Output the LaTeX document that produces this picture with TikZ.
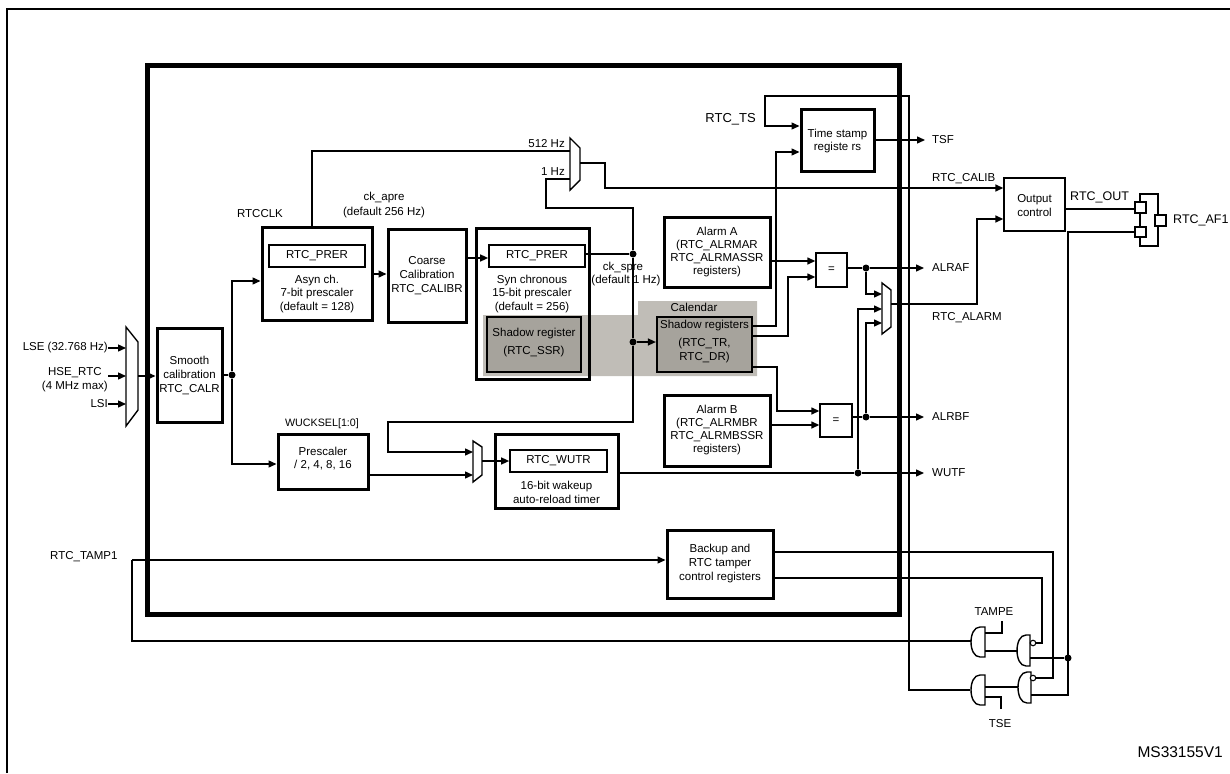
\documentclass[tikz,border=0pt]{standalone}
\usepackage{fontspec}
\setmainfont{Liberation Sans}
\usetikzlibrary{arrows.meta,calc}
\definecolor{calgray}{RGB}{192,189,183}
\definecolor{shgray}{RGB}{166,163,156}
\begin{document}
\begin{tikzpicture}[x=1pt,y=-1pt,
  wire/.style={line width=1.4pt},
  arr/.style={wire,-{Triangle[length=8pt,width=7pt]}},
  tbox/.style={draw,line width=3pt,inner sep=0pt},
  rbox/.style={draw,line width=1.7pt,inner sep=0pt},
  nbox/.style={draw,line width=1.4pt,inner sep=0pt},
  sbox/.style={draw,line width=2.2pt,inner sep=0pt,fill=shgray},
  txt/.style={inner sep=0pt,align=center,font=\fontsize{11.5}{13.5}\selectfont},
  dot/.style={circle,fill,inner sep=0pt,minimum size=7pt},
  bub/.style={circle,draw,line width=1.1pt,fill=white,inner sep=0pt,minimum size=5.5pt}]
\useasboundingbox (0,0) rectangle (1230,773);
% outer frame
\draw[line width=2pt] (7,773) -- (7,9) -- (1230,9);
% calendar background
\fill[calgray] (483,315) -- (638,315) -- (638,301) -- (757,301) -- (757,376) -- (483,376) -- cycle;
\node[txt] (calT) at (694,307) {Calendar};
% main frame
\draw[line width=5pt] (147,66) rectangle (899,614);

% boxes
\node[tbox,minimum width=65pt,minimum height=94pt] (smooth) at (189.5,375) {};
\node[txt,font=\fontsize{11.5}{14}\selectfont] (smoothT) at (189.5,375) {Smooth\\calibration\\RTC\_CALR};
\node[tbox,minimum width=110pt,minimum height=93pt] (asyn) at (317,273.5) {};
\node[rbox,minimum width=96pt,minimum height=22pt] (asynreg) at (317,256) {};
\node[txt] at (asynreg) {RTC\_PRER};
\node[txt] (asynT) at (317,294) {Asyn ch.\\7-bit prescaler\\(default = 128)};
\node[tbox,minimum width=78pt,minimum height=93pt] (coarse) at (427,275.5) {};
\node[txt,font=\fontsize{11.5}{14}\selectfont] (coarseT) at (427,276) {Coarse\\Calibration\\RTC\_CALIBR};
\node[tbox,minimum width=113pt,minimum height=151pt] (sync) at (532.5,303.5) {};
\node[rbox,minimum width=96pt,minimum height=22pt] (syncreg) at (537,256) {};
\node[txt] at (syncreg) {RTC\_PRER};
\node[txt] (syncT) at (532,294) {Syn chronous\\15-bit prescaler\\(default = 256)};
\node[sbox,minimum width=94pt,minimum height=55pt] (ssr) at (534,344.5) {};
\node[txt,font=\fontsize{11.5}{18}\selectfont] (ssrT) at (534,342.5) {Shadow register\\(RTC\_SSR)};
\node[sbox,minimum width=95pt,minimum height=55pt] (calsh) at (704.5,344.5) {};
\node[txt] (calshA) at (704.5,326) {Shadow registers};
\node[txt,font=\fontsize{11.5}{14}\selectfont] (calshB) at (704.5,351) {(RTC\_TR,\\RTC\_DR)};
\node[tbox,minimum width=106pt,minimum height=70pt] (alarmA) at (717,252) {};
\node[txt,font=\fontsize{11.5}{13}\selectfont] (alarmAT) at (717,252.5) {Alarm A\\(RTC\_ALRMAR\\RTC\_ALRMASSR\\registers)};
\node[tbox,minimum width=106pt,minimum height=71pt] (alarmB) at (717,430.5) {};
\node[txt,font=\fontsize{11.5}{13}\selectfont] (alarmBT) at (717,430.5) {Alarm B\\(RTC\_ALRMBR\\RTC\_ALRMBSSR\\registers)};
\node[nbox,minimum width=31pt,minimum height=34pt] (eqA) at (831.5,270) {};
\node[txt] at (eqA) {=};
\node[nbox,minimum width=32pt,minimum height=33pt] (eqB) at (836,420.5) {};
\node[txt] at (eqB) {=};
\node[tbox,minimum width=90pt,minimum height=55pt] (presc) at (323,461.5) {};
\node[txt,font=\fontsize{11.5}{13}\selectfont] (prescT) at (323,459) {Prescaler\\/ 2, 4, 8, 16};
\node[txt,font=\fontsize{10.7}{12}\selectfont] (wucksel) at (322,424) {WUCKSEL[1:0]};
\node[tbox,minimum width=123pt,minimum height=74pt] (wut) at (556.5,471) {};
\node[rbox,minimum width=97pt,minimum height=22pt] (wutreg) at (558.5,461) {};
\node[txt] at (wutreg) {RTC\_WUTR};
\node[txt,font=\fontsize{11.5}{14}\selectfont] (wutT) at (556.5,492) {16-bit wakeup\\auto-reload timer};
\node[tbox,minimum width=106pt,minimum height=68pt] (backup) at (720,564) {};
\node[txt,font=\fontsize{11.5}{14}\selectfont] (backupT) at (720,564) {Backup and\\RTC tamper\\control registers};
\node[tbox,minimum width=73pt,minimum height=61pt] (ts) at (837.5,140.5) {};
\node[txt,font=\fontsize{11.5}{12.5}\selectfont] (tsT) at (837.5,141) {Time stamp\\registe rs};
\node[nbox,minimum width=61pt,minimum height=53pt] (outctl) at (1034.5,204.5) {};
\node[txt,font=\fontsize{11.5}{14}\selectfont] (outctlT) at (1034.5,206) {Output\\control};

% muxes
\draw[wire] (126,327) -- (138,342) -- (138,410) -- (126,426) -- cycle;
\draw[wire] (570,138) -- (580,148) -- (580,180) -- (570,190) -- cycle;
\draw[wire] (473,441) -- (482,447) -- (482,475) -- (473,482) -- cycle;
\draw[wire] (882,283) -- (891,290) -- (891,327) -- (882,334) -- cycle;
\coordinate (lsein) at (126,348);
\coordinate (hsein) at (126,376);
\coordinate (lsiin) at (126,404);
\coordinate (imo) at (138,376);
\coordinate (c512) at (570,151);
\coordinate (c1) at (570,179);
\coordinate (cmo) at (580,163);
\coordinate (wk1) at (473,452);
\coordinate (wk2) at (473,475);
\coordinate (wko) at (482,461);
\coordinate (am1) at (882,294);
\coordinate (am2) at (882,309);
\coordinate (am3) at (882,323);
\coordinate (amo) at (891,304);

% input labels
\node[txt,anchor=east] (lse) at (108,348) {LSE (32.768 Hz)};
\node[txt,anchor=east] (hse) at (108,379.5) {HSE\_RTC\\(4 MHz max)};
\node[txt,anchor=east] (lsi) at (108,404) {LSI};
\draw[arr] (lse.east) -- (lsein);
\draw[arr] (hsein -| hse.east) -- (hsein);
\draw[arr] (lsi.east) -- (lsiin);
\draw[arr] (imo) -- (smooth.west |- imo);

% clock path
\node[dot] (j1) at (232,375) {};
\draw[wire] (smooth.east |- j1) -- (j1);
\draw[arr] (j1) |- (asyn.west |- 0,281);
\draw[arr] (j1) |- (presc.west |- 0,464);
\draw[arr] (asyn.east |- 0,274) -- (coarse.west |- 0,274);
\draw[arr] (coarse.east |- 0,258) -- (syncreg.west |- 0,258);
\node[txt] (rtcclk) at (260,214) {RTCCLK};
\node[txt,font=\fontsize{11.5}{15}\selectfont] (ckapre) at (384,205.5) {ck\_apre\\(default 256 Hz)};
\draw[wire] (asyn.north -| 312,0) |- (c512);
\node[txt,anchor=east] (l512) at (565,144) {512 Hz};
\node[txt,anchor=east] (l1hz) at (565,172) {1 Hz};
\draw[arr] (cmo) -- (605,163) |- (outctl.west |- 0,188);
\node[txt,anchor=west] (calib) at (932,179) {RTC\_CALIB};
\node[dot] (jck) at (633,254) {};
\draw[wire] (syncreg.east |- jck) -- (jck);
\draw[wire] (jck) -- (633,208) -| (546,179) -- (c1);
\node[txt] (ckspre) at (623,268) {ck\_spre};
\node[txt] (ckspre2) at (626,281) {(default 1 Hz)};
\node[dot] (jcal) at (633,342) {};
\draw[wire] (jck) -- (jcal);
\draw[arr] (jcal) -- (calsh.west |- jcal);
\draw[arr] (jcal) -- (633,422) -| (388,452) -- (wk1);
\draw[arr] (presc.east |- wk2) -- (wk2);
\draw[arr] (wko) -- (wutreg.west |- wko);

% outputs
\node[dot] (jw) at (858,473) {};
\draw[wire] (wut.east |- jw) -- (jw);
\draw[arr] (jw) -- (924,473);
\node[txt,anchor=west] (wutf) at (932,473) {WUTF};
\draw[arr] (calsh.east |- 0,326) -- (776,326) |- (ts.west |- 0,152);
\draw[arr] (calsh.east |- 0,336) -- (788,336) |- (eqA.west |- 0,277);
\draw[arr] (calsh.east |- 0,367) -- (777,367) |- (eqB.west |- 0,411);
\draw[arr] (alarmA.east |- 0,261) -- (eqA.west |- 0,261);
\draw[arr] (alarmB.east |- 0,425) -- (eqB.west |- 0,425);
\node[dot] (ja) at (866,268) {};
\node[dot] (jb) at (866,417) {};
\draw[wire] (eqA.east |- ja) -- (ja);
\draw[wire] (eqB.east |- jb) -- (jb);
\draw[arr] (ja) -- (924,268);
\draw[arr] (jb) -- (924,417);
\node[txt,anchor=west] (alraf) at (932,268) {ALRAF};
\node[txt,anchor=west] (alrbf) at (932,417) {ALRBF};
\draw[arr] (ja) |- (am1);
\draw[arr] (jw) |- (am2);
\draw[arr] (jb) |- (am3);
\draw[arr] (amo) -- (977,304) |- (outctl.west |- 0,219);
\node[txt,anchor=west] (alarm) at (932,318) {RTC\_ALARM};

% time stamp
\node[txt,anchor=east,font=\fontsize{13}{15}\selectfont] (rtcts) at (756,119) {RTC\_TS};
\coordinate (g3a) at (970,690);
\draw[arr] (g3a) -| (909,96) -| (765,126) -- (ts.west |- 0,126);
\draw[arr] (ts.east |- 0,140) -- (925,140);
\node[txt,anchor=west] (tsf) at (932,140) {TSF};

% output pins
\draw[wire] (1140,194) rectangle (1158,246);
\node[nbox,fill=white,minimum width=11pt,minimum height=11pt] (p1) at (1140.5,207.5) {};
\node[nbox,fill=white,minimum width=11pt,minimum height=10pt] (p2) at (1140.5,232) {};
\node[nbox,fill=white,minimum width=11pt,minimum height=11pt] (p3) at (1160.5,220.5) {};
\draw[wire] (outctl.east |- 0,209) -- (p1.west |- 0,209);
\node[txt,anchor=west,font=\fontsize{12.5}{14}\selectfont] (rtcout) at (1070,197) {RTC\_OUT};
\node[txt,anchor=west,font=\fontsize{12.5}{14}\selectfont] (af1) at (1173,220) {RTC\_AF1};

% tamper
\node[txt,anchor=west] (tamp) at (50,557) {RTC\_TAMP1};
\coordinate (tp) at (132,560);
\coordinate (g1a) at (971,641);
\draw[arr] (tp) -- (backup.west |- tp);
\draw[wire] (tp) |- (g1a);

% gates
\draw[wire] (985,627) -- (980,627) .. controls (968,627) and (968,657) .. (980,657) -- (985,657) -- cycle;
\draw[wire] (1030,635) -- (1026,635) .. controls (1014,635) and (1014,666) .. (1026,666) -- (1030,666) -- cycle;
\draw[wire] (985,675) -- (980,675) .. controls (968,675) and (968,705) .. (980,705) -- (985,705) -- cycle;
\draw[wire] (1031,672) -- (1027,672) .. controls (1015,672) and (1015,703) .. (1027,703) -- (1031,703) -- cycle;
\node[bub] (bub2) at (1033,643) {};
\node[bub] (bub4) at (1033,678) {};
\draw[wire] (backup.east |- 0,552) -| (1053,678) -- (bub4.east);
\draw[wire] (backup.east |- 0,578) -| (1042,643) -- (bub2.east);
\draw[wire] (985,651) -- (1018,651);
\draw[wire] (985,687) -- (1018,687);
\node[txt] (tampe) at (994,612) {TAMPE};
\node[txt] (tse) at (1000,724) {TSE};
\draw[wire] (1002,621) |- (985,633);
\draw[wire] (1001,709) |- (985,697);
\node[dot] (jo) at (1068,658) {};
\draw[wire] (1030,658) -- (jo);
\draw[wire] (p2.west) -- (1068,232) -- (1068,695) -- (1031,695);

\node[txt,anchor=east,font=\fontsize{15.5}{17}\selectfont] (ms) at (1223,752) {MS33155V1};
\end{tikzpicture}
\end{document}
